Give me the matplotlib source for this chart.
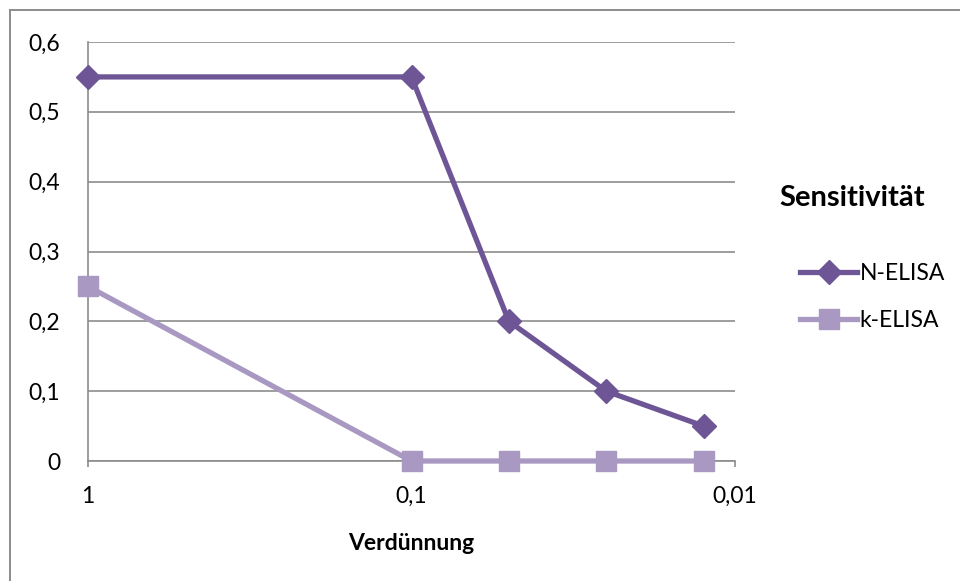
import matplotlib
matplotlib.use("Agg")
import matplotlib.pyplot as plt
from matplotlib.lines import Line2D
from matplotlib.ticker import FixedLocator, NullLocator, FuncFormatter

plt.rcParams['font.family'] = ['Lato', 'DejaVu Sans']

# Verdünnungsstufen und Messwerte
dilution = [1, 0.1, 0.05, 0.025, 0.0125]
n_elisa = [0.55, 0.55, 0.2, 0.1, 0.05]
k_elisa = [0.25, 0, 0, 0, 0]
y_ticks = [0, 0.1, 0.2, 0.3, 0.4, 0.5, 0.6]
x_ticks = [1, 0.1, 0.01]

dark = '#6E5696'
light = '#A898C2'
grid = '#8C8C8C'
fs = 16.5
W, H = 960, 581


def comma(v, pos):
    return f'{v:g}'.replace('.', ',')


fig = plt.figure(figsize=(W / 100, H / 100), dpi=100)
ax = fig.add_axes([88 / W, 1 - 461 / H, (735 - 88) / W, (461 - 42) / H])

# Rahmen oben und links (rechts/unten außerhalb des Bildes)
fig.add_artist(Line2D([10 / W, 1.0], [1 - 10 / H, 1 - 10 / H],
                      transform=fig.transFigure, color=grid, linewidth=1.4))
fig.add_artist(Line2D([10 / W, 10 / W], [0.0, 1 - 10 / H],
                      transform=fig.transFigure, color=grid, linewidth=1.4))

ax.set_xscale('log')
ax.set_xlim(1, 0.01)
ax.set_ylim(0, 0.6)

ax.plot(dilution, n_elisa, color=dark, linewidth=3.8, marker='D',
        markersize=12, label='N-ELISA', zorder=4, clip_on=False)
ax.plot(dilution, k_elisa, color=light, linewidth=3.8, marker='s',
        markersize=14, label='k-ELISA', zorder=3, clip_on=False)

ax.set_yticks(y_ticks)
ax.yaxis.set_major_formatter(FuncFormatter(comma))
ax.xaxis.set_major_locator(FixedLocator(x_ticks))
ax.xaxis.set_minor_locator(NullLocator())
ax.xaxis.set_major_formatter(FuncFormatter(comma))

ax.grid(axis='y', color=grid, linewidth=1.2)
ax.set_axisbelow(True)
for side in ['top', 'right']:
    ax.spines[side].set_visible(False)
for side in ['left', 'bottom']:
    ax.spines[side].set_color(grid)
    ax.spines[side].set_linewidth(1.2)

ax.tick_params(axis='y', length=0, pad=20, labelsize=fs)
ax.tick_params(axis='x', length=4, width=1.2, color=grid, pad=14, labelsize=fs)

ax.set_xlabel('Verdünnung', fontweight='bold', fontsize=fs, labelpad=19)

leg = fig.legend(loc='center left', bbox_to_anchor=(800 / W, 1 - 297 / H),
                 frameon=False, fontsize=fs, handlelength=2.5,
                 handletextpad=0.1, labelspacing=1.15, borderpad=0,
                 borderaxespad=0)
fig.text(852 / W, 1 - 198 / H, 'Sensitivität', fontweight='bold',
         fontsize=21, ha='center', va='center')

fig.savefig('out.png', dpi=100)
